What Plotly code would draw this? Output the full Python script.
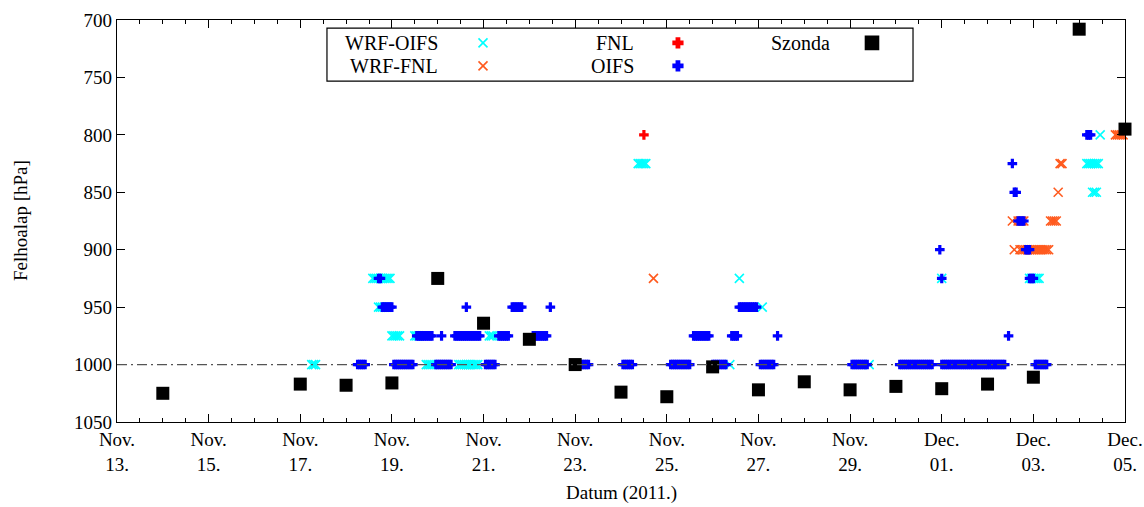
import pandas as pd
import plotly.graph_objects as go

# ---------------- data ----------------
tick_dates = ["2011-11-13", "2011-11-15", "2011-11-17", "2011-11-19", "2011-11-21",
              "2011-11-23", "2011-11-25", "2011-11-27", "2011-11-29", "2011-12-01",
              "2011-12-03", "2011-12-05"]
tick_labels = ["Nov.<br>13.", "Nov.<br>15.", "Nov.<br>17.", "Nov.<br>19.", "Nov.<br>21.",
               "Nov.<br>23.", "Nov.<br>25.", "Nov.<br>27.", "Nov.<br>29.", "Dec.<br>01.",
               "Dec.<br>03.", "Dec.<br>05."]
y_ticks = [700, 750, 800, 850, 900, 950, 1000, 1050]

# hourly model cloud-base runs: start, end (inclusive), level [hPa]
wrf_oifs_start = ["2011-11-17 06:00", "2011-11-18 14:00", "2011-11-18 17:00", "2011-11-19 00:00",
                  "2011-11-19 12:00", "2011-11-19 18:00", "2011-11-20 11:00", "2011-11-21 03:00",
                  "2011-11-24 09:00", "2011-11-26 14:00", "2011-11-27 02:00", "2011-11-26 09:00",
                  "2011-11-29 10:00", "2011-12-01 00:00", "2011-12-02 22:00", "2011-12-04 07:00",
                  "2011-12-04 04:00", "2011-12-04 11:00"]
wrf_oifs_end = ["2011-11-17 08:00", "2011-11-18 23:00", "2011-11-18 22:00", "2011-11-19 04:00",
                "2011-11-19 14:00", "2011-11-19 21:00", "2011-11-20 21:00", "2011-11-21 05:00",
                "2011-11-24 13:00", "2011-11-26 14:00", "2011-11-27 02:00", "2011-11-26 09:00",
                "2011-11-29 10:00", "2011-12-01 00:00", "2011-12-03 03:00", "2011-12-04 09:00",
                "2011-12-04 10:00", "2011-12-04 11:00"]
wrf_oifs_level = [1000, 925, 950, 975, 975, 1000, 1000, 975, 825, 925, 950, 1000,
                  1000, 925, 925, 850, 825, 800]

wrf_fnl_start = ["2011-11-24 17:00", "2011-12-02 14:00", "2011-12-02 17:00", "2011-12-02 13:00",
                 "2011-12-02 16:00", "2011-12-03 09:00", "2011-12-03 13:00", "2011-12-03 14:00",
                 "2011-12-04 19:00"]
wrf_fnl_end = ["2011-11-24 17:00", "2011-12-02 14:00", "2011-12-03 08:00", "2011-12-02 13:00",
               "2011-12-02 19:00", "2011-12-03 12:00", "2011-12-03 13:00", "2011-12-03 15:00",
               "2011-12-04 23:00"]
wrf_fnl_level = [925, 900, 900, 875, 875, 875, 850, 825, 800]

fnl_start = ["2011-11-24 12:00"]
fnl_end = ["2011-11-24 12:00"]
fnl_level = [800]

oifs_start = ["2011-11-18 06:00", "2011-11-18 17:00", "2011-11-18 19:00", "2011-11-19 01:00",
              "2011-11-19 13:00", "2011-11-20 02:00", "2011-11-19 23:00", "2011-11-20 15:00",
              "2011-11-20 09:00", "2011-11-21 01:00", "2011-11-21 08:00", "2011-11-21 15:00",
              "2011-11-22 02:00", "2011-11-22 11:00", "2011-11-23 03:00", "2011-11-24 01:00",
              "2011-11-25 02:00", "2011-11-25 14:00", "2011-11-26 00:00", "2011-11-26 10:00",
              "2011-11-26 14:00", "2011-11-27 01:00", "2011-11-27 10:00", "2011-11-29 01:00",
              "2011-11-30 02:00", "2011-11-30 23:00", "2011-12-01 00:00", "2011-12-01 00:00",
              "2011-12-02 11:00", "2011-12-02 13:00", "2011-12-02 14:00", "2011-12-02 16:00",
              "2011-12-02 20:00", "2011-12-02 22:00", "2011-12-03 01:00", "2011-12-04 04:00"]
oifs_end = ["2011-11-18 10:00", "2011-11-18 18:00", "2011-11-19 00:00", "2011-11-19 11:00",
            "2011-11-19 21:00", "2011-11-20 02:00", "2011-11-20 07:00", "2011-11-20 15:00",
            "2011-11-20 22:00", "2011-11-21 06:00", "2011-11-21 13:00", "2011-11-21 20:00",
            "2011-11-22 09:00", "2011-11-22 11:00", "2011-11-23 07:00", "2011-11-24 06:00",
            "2011-11-25 12:00", "2011-11-25 22:00", "2011-11-26 07:00", "2011-11-26 13:00",
            "2011-11-26 23:00", "2011-11-27 08:00", "2011-11-27 10:00", "2011-11-29 09:00",
            "2011-11-30 19:00", "2011-11-30 23:00", "2011-12-01 00:00", "2011-12-02 09:00",
            "2011-12-02 11:00", "2011-12-02 13:00", "2011-12-02 15:00", "2011-12-02 19:00",
            "2011-12-02 22:00", "2011-12-03 00:00", "2011-12-03 07:00", "2011-12-04 06:00"]
oifs_level = [1000, 925, 950, 1000, 975, 975, 1000, 950, 975, 1000, 975, 950,
              975, 950, 1000, 1000, 1000, 975, 1000, 975, 950, 1000, 975, 1000,
              1000, 900, 925, 1000, 975, 825, 850, 875, 900, 925, 1000, 800]

szonda_dates = ["2011-11-14", "2011-11-17", "2011-11-18", "2011-11-19", "2011-11-20",
                "2011-11-21", "2011-11-22", "2011-11-23", "2011-11-24", "2011-11-25",
                "2011-11-26", "2011-11-27", "2011-11-28", "2011-11-29", "2011-11-30",
                "2011-12-01", "2011-12-02", "2011-12-03", "2011-12-04", "2011-12-05"]
szonda_values = [1025, 1017, 1018, 1016, 925, 964, 978, 1000, 1024, 1028,
                 1002, 1022, 1015, 1022, 1019, 1021, 1017, 1011, 708, 795]


def expand(starts, ends, levels):
    xs, ys = [], []
    for s, e, lv in zip(starts, ends, levels):
        for t in pd.date_range(s, e, freq="h"):
            xs.append(t)
            ys.append(lv)
    return xs, ys


FONT = "Liberation Serif"
C_WO = "#00ffff"
C_WF = "#ff5a1e"
C_FNL = "#ff0000"
C_OIFS = "#0000ff"

fig = go.Figure()

x, y = expand(wrf_oifs_start, wrf_oifs_end, wrf_oifs_level)
fig.add_trace(go.Scatter(x=x, y=y, mode="markers", name="WRF-OIFS", cliponaxis=False,
                         marker=dict(symbol="x-thin-open", size=9, color=C_WO,
                                     line=dict(width=1.6, color=C_WO))))
x, y = expand(wrf_fnl_start, wrf_fnl_end, wrf_fnl_level)
fig.add_trace(go.Scatter(x=x, y=y, mode="markers", name="WRF-FNL", cliponaxis=False,
                         marker=dict(symbol="x-thin-open", size=9, color=C_WF,
                                     line=dict(width=1.6, color=C_WF))))
x, y = expand(fnl_start, fnl_end, fnl_level)
fig.add_trace(go.Scatter(x=x, y=y, mode="markers", name="FNL", cliponaxis=False,
                         marker=dict(symbol="cross", size=8, color=C_FNL)))
x, y = expand(oifs_start, oifs_end, oifs_level)
fig.add_trace(go.Scatter(x=x, y=y, mode="markers", name="OIFS", cliponaxis=False,
                         marker=dict(symbol="cross", size=8, color=C_OIFS)))
fig.add_trace(go.Scatter(x=pd.to_datetime(szonda_dates), y=szonda_values, mode="markers",
                         name="Szonda", cliponaxis=False,
                         marker=dict(symbol="square", size=13, color="black")))

# reference line at 1000 hPa
fig.add_shape(type="line", xref="paper", x0=0, x1=1, yref="y", y0=1000, y1=1000,
              line=dict(color="#555555", width=1.2, dash="10px,4px,2px,4px"), layer="above")

# ---------------- manual legend (gnuplot style) ----------------
fig.add_shape(type="rect", xref="paper", yref="paper", x0=0.2083, x1=0.7897, y0=0.848, y1=0.980,
              line=dict(color="black", width=1.2), fillcolor="white", layer="below")
leg_names = ["WRF-OIFS", "WRF-FNL", "FNL", "OIFS", "Szonda"]
leg_tx = [0.3204, 0.3204, 0.5149, 0.5149, 0.7093]
leg_sx = [0.3631, 0.3631, 0.5565, 0.5565, 0.749]
leg_y = [0.943, 0.886, 0.943, 0.886, 0.943]
leg_sym = [("x-thin-open", 9, C_WO), ("x-thin-open", 9, C_WF), ("cross", 8, C_FNL),
           ("cross", 8, C_OIFS), ("square", 13, "black")]
for name, tx, sx, ly, (sym, sz, col) in zip(leg_names, leg_tx, leg_sx, leg_y, leg_sym):
    fig.add_annotation(x=tx, y=ly, xref="paper", yref="paper", text=name, showarrow=False,
                       xanchor="right", yanchor="middle", font=dict(family=FONT, size=20, color="black"))
    fig.add_trace(go.Scatter(x=[sx], y=[ly], xaxis="x2", yaxis="y2", mode="markers",
                             showlegend=False, hoverinfo="skip", cliponaxis=False,
                             marker=dict(symbol=sym, size=sz, color=col,
                                         line=dict(width=1.6, color=col))))

# axis titles
fig.add_annotation(x=-0.0962, y=0.5, xref="paper", yref="paper", text="Felhoalap [hPa]",
                   textangle=-90, showarrow=False, xanchor="center", yanchor="middle",
                   font=dict(family=FONT, size=19, color="black"))
fig.add_annotation(x=0.5, y=-0.1766, xref="paper", yref="paper", text="Datum (2011.)",
                   showarrow=False, xanchor="center", yanchor="middle",
                   font=dict(family=FONT, size=19, color="black"))

axis_common = dict(showline=True, linecolor="black", linewidth=1.3, mirror="ticks",
                   ticks="inside", tickcolor="black", showgrid=False, zeroline=False,
                   automargin=False, tickfont=dict(family=FONT, size=19, color="black"))

fig.update_layout(
    width=1144, height=507,
    margin=dict(l=117, r=19, t=20, b=85),
    paper_bgcolor="white", plot_bgcolor="white",
    showlegend=False,
    xaxis=dict(type="date", range=["2011-11-13", "2011-12-05"],
               tickvals=tick_dates, ticktext=tick_labels, ticklen=8,
               ticklabeloverflow="allow",
               minor=dict(dtick=12 * 3600 * 1000, ticks="inside", ticklen=4, tickcolor="black",
                          showgrid=False),
               **axis_common),
    yaxis=dict(range=[1050, 700], tickvals=y_ticks, ticklen=8, ticksuffix="\u00a0",
               **axis_common),
    xaxis2=dict(overlaying="x", range=[0, 1], visible=False),
    yaxis2=dict(overlaying="y", range=[0, 1], visible=False),
)

fig.write_html("out.html", config={"displayModeBar": False},
               post_script="document.body.style.margin='0';document.body.style.overflow='hidden';")
